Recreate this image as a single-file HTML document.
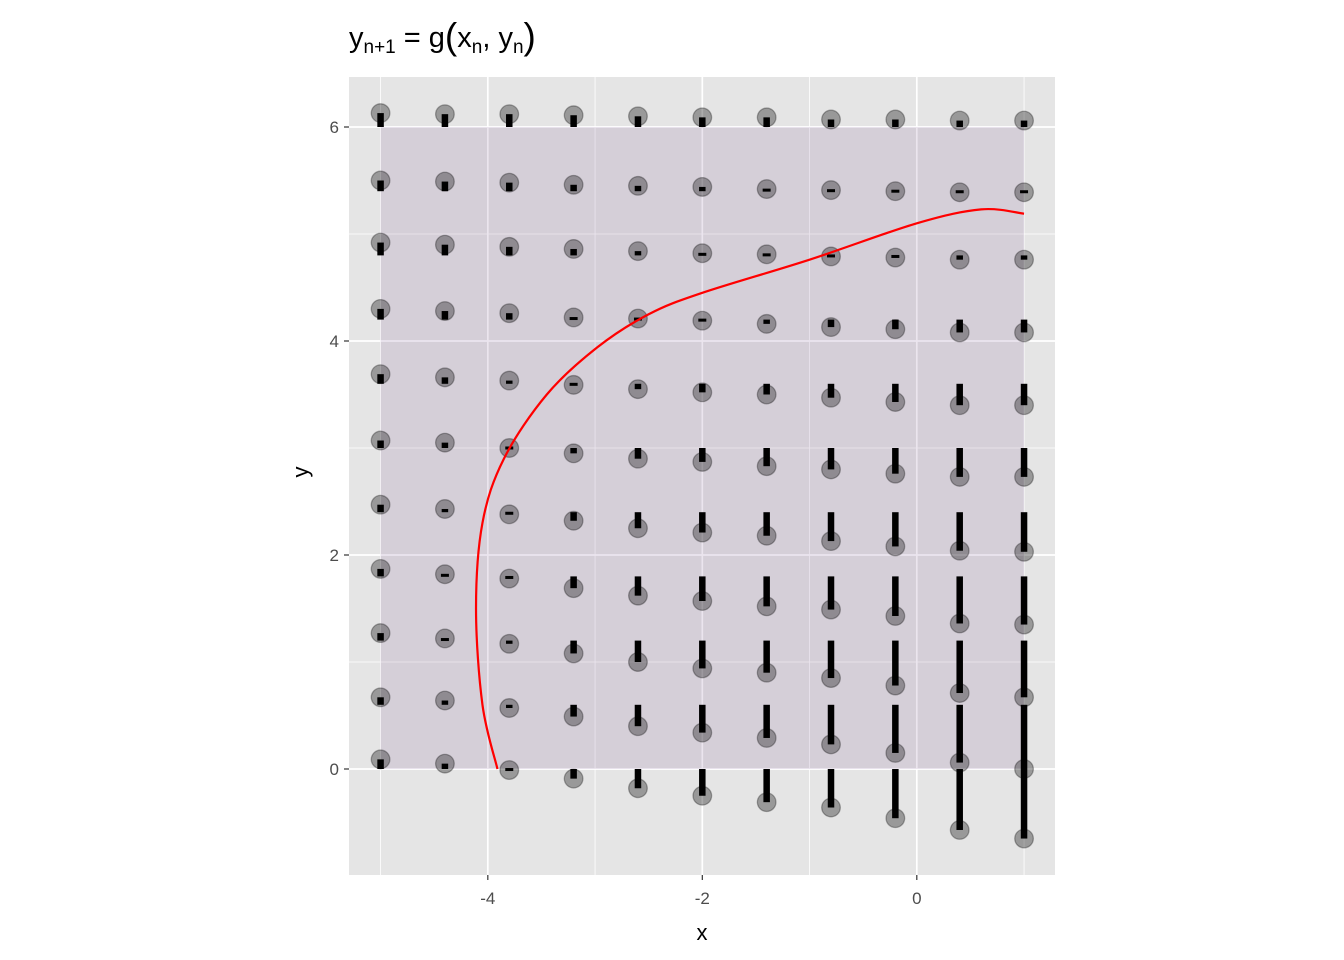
<!DOCTYPE html>
<html><head><meta charset="utf-8"><style>
html,body{margin:0;padding:0;background:#fff;}
svg{display:block;font-family:"Liberation Sans",Arial,sans-serif;}
</style></head><body>
<svg id="chart" width="1344" height="960" viewBox="0 0 1344 960">
<rect x="349" y="77" width="706" height="798" fill="#E5E5E5"/>
<g id="grid"></g>
<g id="shade"></g>
<g id="marks"></g>
<g id="axes"></g>
<text x="349" y="47" font-size="29" fill="#000">y<tspan font-size="19" dy="6">n+1</tspan><tspan dy="-6">&#160;= g</tspan><tspan font-size="37" dy="2">(</tspan><tspan dy="-2">x</tspan><tspan font-size="19" dy="6">n</tspan><tspan dy="-6">,&#160;y</tspan><tspan font-size="19" dy="6">n</tspan><tspan font-size="37" dy="-4">)</tspan></text>
<text x="702" y="940" font-size="22" text-anchor="middle" fill="#000">x</text>
<text x="308" y="472" font-size="22" text-anchor="middle" fill="#000" transform="rotate(-90 308 472)">y</text>
</svg>
<script>
const xGrid = [-5,-4.4,-3.8,-3.2,-2.6,-2,-1.4,-0.8,-0.2,0.4,1];
const yGrid = [0,0.6,1.2,1.8,2.4,3,3.6,4.2,4.8,5.4,6];
const nextY0   = [0.09,0.05,-0.01,-0.09,-0.18,-0.25,-0.31,-0.36,-0.46,-0.57,-0.65];
const nextY06  = [0.67,0.64,0.57,0.49,0.40,0.34,0.29,0.23,0.15,0.06,0.00];
const nextY12  = [1.27,1.22,1.17,1.08,1.00,0.94,0.90,0.85,0.78,0.71,0.67];
const nextY18  = [1.87,1.82,1.78,1.69,1.62,1.57,1.52,1.49,1.43,1.36,1.35];
const nextY24  = [2.47,2.43,2.38,2.32,2.25,2.21,2.18,2.13,2.08,2.04,2.03];
const nextY30  = [3.07,3.05,3.00,2.95,2.90,2.87,2.83,2.80,2.76,2.73,2.73];
const nextY36  = [3.69,3.66,3.63,3.59,3.55,3.52,3.50,3.47,3.43,3.40,3.40];
const nextY42  = [4.30,4.28,4.26,4.22,4.21,4.19,4.16,4.13,4.11,4.08,4.08];
const nextY48  = [4.92,4.90,4.88,4.86,4.84,4.82,4.81,4.79,4.78,4.76,4.76];
const nextY54  = [5.50,5.49,5.48,5.46,5.45,5.44,5.42,5.41,5.40,5.39,5.39];
const nextY60  = [6.13,6.12,6.12,6.11,6.10,6.09,6.09,6.07,6.07,6.06,6.06];
const nextRows = [nextY0,nextY06,nextY12,nextY18,nextY24,nextY30,nextY36,nextY42,nextY48,nextY54,nextY60];
const curveX = [-3.91,-4.05,-4.11,-4.05,-3.85,-3.45,-2.98,-2.5,-2.0,-1.0,0.0,0.6,1.0];
const curveY = [0,0.6,1.5,2.3,2.9,3.5,3.94,4.25,4.45,4.76,5.10,5.23,5.19];
const xTicks = [-4,-2,0];
const yTicks = [0,2,4,6];
const xMinor = [-5,-3,-1,1];
const yMinor = [1,3,5];

const X0=349,X1=1055,Y0=77,Y1=875;
const xMin=-5.2944,xMax=1.2886,yMin=-0.9907,yMax=6.4673;
const sx=v=>X0+(v-xMin)/(xMax-xMin)*(X1-X0);
const sy=v=>Y1-(v-yMin)/(yMax-yMin)*(Y1-Y0);
const NS="http://www.w3.org/2000/svg";
function mk(tag,attrs,parent){const e=document.createElementNS(NS,tag);for(const k in attrs)e.setAttribute(k,attrs[k]);parent.appendChild(e);return e;}

const grid=document.getElementById('grid');
xMinor.forEach(v=>{const l=mk('line',{x1:sx(v),x2:sx(v),y1:Y0,y2:Y1,stroke:'#fff','stroke-width':0.8},grid);

});
yMinor.forEach(v=>{const l=mk('line',{x1:X0,x2:X1,y1:sy(v),y2:sy(v),stroke:'#fff','stroke-width':0.8},grid);

});
xTicks.forEach(v=>{const l=mk('line',{x1:sx(v),x2:sx(v),y1:Y0,y2:Y1,stroke:'#fff','stroke-width':1.7},grid);

});
yTicks.forEach(v=>{const l=mk('line',{x1:X0,x2:X1,y1:sy(v),y2:sy(v),stroke:'#fff','stroke-width':1.7},grid);

});

const shade=document.getElementById('shade');
const r=mk('rect',{x:sx(xGrid[0]),y:sy(yGrid[yGrid.length-1]),width:sx(xGrid[xGrid.length-1])-sx(xGrid[0]),height:sy(yGrid[0])-sy(yGrid[yGrid.length-1]),fill:'rgb(122,82,142)','fill-opacity':0.15},shade);



const marks=document.getElementById('marks');
nextRows.forEach((row,ri)=>{row.forEach((ny,ci)=>{
  const cx=sx(xGrid[ci]);
  const c=mk('circle',{cx:cx,cy:sy(ny),r:9.3,fill:'rgba(0,0,0,0.33)',stroke:'rgba(0,0,0,0.3)','stroke-width':1.3},marks);
  
  
});});
nextRows.forEach((row,ri)=>{row.forEach((ny,ci)=>{
  const cx=sx(xGrid[ci]);
  const a=sy(yGrid[ri]),b=sy(ny);
  let top=Math.min(a,b),h=Math.abs(a-b);
  let w=6.5;
  if(h<3){top=(a+b)/2-1.5;h=3;w=8;}
  const s=mk('rect',{x:cx-w/2,y:top,width:w,height:h,fill:'#000'},marks);
  
  
});});

const pts=curveX.map((v,i)=>[sx(v),sy(curveY[i])]);
let d='M'+pts[0][0]+','+pts[0][1];
for(let i=0;i<pts.length-1;i++){
  const p0=pts[Math.max(i-1,0)],p1=pts[i],p2=pts[i+1],p3=pts[Math.min(i+2,pts.length-1)];
  const c1=[p1[0]+(p2[0]-p0[0])/6,p1[1]+(p2[1]-p0[1])/6];
  const c2=[p2[0]-(p3[0]-p1[0])/6,p2[1]-(p3[1]-p1[1])/6];
  d+=' C'+c1[0]+','+c1[1]+' '+c2[0]+','+c2[1]+' '+p2[0]+','+p2[1];
}
const cv=mk('path',{d:d,fill:'none',stroke:'#FF0000','stroke-width':2.2},marks);



const axes=document.getElementById('axes');
xTicks.forEach(v=>{
  const t=mk('line',{x1:sx(v),x2:sx(v),y1:Y1,y2:Y1+5,stroke:'#333','stroke-width':1.2},axes);
  
  
  const tx=mk('text',{x:sx(v),y:Y1+29,'font-size':17,'text-anchor':'middle',fill:'#4D4D4D'},axes);
  tx.textContent=v<0?'-'+Math.abs(v):String(v);
  
  
});
yTicks.forEach(v=>{
  const t=mk('line',{x1:X0-5,x2:X0,y1:sy(v),y2:sy(v),stroke:'#333','stroke-width':1.2},axes);
  
  
  const tx=mk('text',{x:X0-10,y:sy(v)+6,'font-size':17,'text-anchor':'end',fill:'#4D4D4D'},axes);
  tx.textContent=String(v);
  
  
});
</script>
</body></html>
